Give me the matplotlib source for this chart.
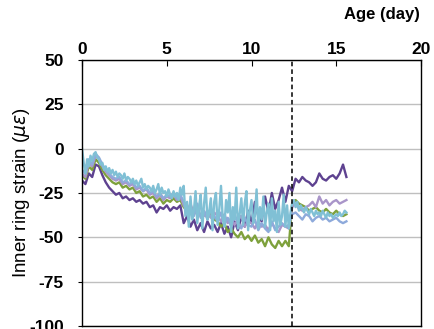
import numpy as np
import matplotlib
matplotlib.use('Agg')
import matplotlib.pyplot as plt
import matplotlib.ticker as ticker

# ========== Data ==========
# gauges 1-4 logged every 0.2 day, gauge 5 every 0.1 day (day 0.0 to 15.6)
age = np.round(np.arange(0, 15.61, 0.2), 1)
age_fine = np.round(np.arange(0, 15.61, 0.1), 1)

strain_s1 = [
    -18, -20, -14, -16, -9, -10, -15, -19, -22, -24,
    -26, -25, -28, -27, -29, -28, -30, -29, -31, -30,
    -33, -32, -36, -33, -34, -32, -35, -33, -34, -32,
    -42, -38, -44, -40, -46, -42, -47, -41, -45, -43,
    -47, -42, -48, -44, -50, -41, -46, -38, -44, -35,
    -42, -30, -38, -41, -27, -36, -25, -34, -29, -22,
    -30, -21, -24, -17, -19, -16, -18, -19, -21, -19,
    -14, -17, -18, -16, -15, -17, -14, -9, -16,
]
strain_s2 = [
    -15, -17, -10, -12, -6, -8, -12, -15, -17, -19,
    -20, -19, -22, -21, -23, -22, -25, -24, -27, -26,
    -28, -27, -30, -28, -31, -29, -30, -28, -30, -29,
    -33, -35, -32, -37, -34, -38, -36, -39, -37, -40,
    -41, -44, -42, -47, -45, -48, -50, -47, -51, -49,
    -52, -49, -53, -51, -55, -50, -54, -56, -52, -55,
    -52, -55, -31, -29, -31, -32, -33, -35, -34, -33,
    -35, -36, -34, -36, -37, -35, -37, -38, -37,
]
strain_s3 = [
    -14, -16, -8, -10, -4, -6, -10, -13, -15, -17,
    -18, -17, -20, -19, -21, -20, -23, -22, -24, -23,
    -26, -25, -28, -26, -29, -27, -28, -26, -29, -27,
    -32, -35, -31, -37, -34, -33, -38, -35, -39, -36,
    -38, -41, -37, -42, -39, -43, -40, -38, -44, -41,
    -42, -45, -41, -44, -43, -46, -42, -45, -47, -43,
    -44, -45, -33, -31, -34, -35, -33, -32, -30, -33,
    -27, -31, -29, -32, -30, -29, -31, -30, -29,
]
strain_s4 = [
    -12, -14, -6, -9, -3, -5, -9, -12, -14, -16,
    -17, -16, -19, -18, -20, -19, -22, -21, -24, -22,
    -25, -24, -27, -25, -28, -26, -27, -25, -28, -26,
    -30, -36, -33, -38, -31, -39, -35, -40, -34, -38,
    -41, -36, -43, -39, -44, -37, -42, -45, -39, -43,
    -44, -40, -46, -42, -45, -47, -41, -46, -44, -42,
    -44, -43, -37, -36, -38, -40, -37, -38, -41, -39,
    -38, -40, -39, -41, -40, -39, -41, -42, -41,
]
strain_s5 = [
    0, -8, -14, -6, -10, -4, -7, -3, -2, -5,
    -6, -9, -8, -12, -10, -13, -11, -14, -12, -15,
    -13, -16, -14, -15, -17, -14, -18, -16, -17, -19,
    -17, -20, -18, -21, -19, -17, -22, -20, -23, -21,
    -22, -24, -21, -25, -23, -20, -26, -22, -25, -24,
    -27, -23, -26, -28, -24, -27, -25, -29, -22, -26,
    -21, -38, -30, -44, -27, -40, -35, -24, -42, -33,
    -26, -45, -31, -22, -40, -36, -28, -46, -30, -25,
    -43, -34, -21, -39, -44, -29, -36, -25, -47, -33,
    -40, -22, -45, -37, -28, -43, -31, -24, -46, -35,
    -29, -42, -38, -23, -45, -33, -40, -27, -44, -36,
    -31, -46, -28, -41, -35, -47, -30, -43, -38, -26,
    -44, -32, -45, -36, -31, -29, -33, -30, -35, -32,
    -34, -36, -33, -35, -37, -34, -36, -38, -35, -37,
    -36, -38, -35, -37, -39, -36, -38, -37, -39, -38,
    -37, -38, -36, -38, -37, -35, -36,
]
series = [(age, strain_s1), (age, strain_s2), (age, strain_s3),
          (age, strain_s4), (age_fine, strain_s5)]
colors = ['#5e4290', '#7ea13c', '#a995c9', '#8eaadb', '#80c0d5']

marker_day = 12.4

# ========== Style ==========
plt.rcParams.update({
    'font.family': ['Liberation Sans', 'DejaVu Sans'],
    'font.size': 12,
    'axes.linewidth': 1.0,
})

fig = plt.figure(figsize=(4.34, 3.29), dpi=100)
ax = fig.add_axes([0.189, 0.009, 0.781, 0.809])

for (x, y), c in zip(series, colors):
    ax.plot(x, y, color=c, linewidth=1.7)

ax.axvline(marker_day, color='black', linestyle='--', linewidth=1.1, dashes=(3, 2))

ax.set_xlim(0, 20)
ax.set_ylim(-100, 50)
ax.xaxis.set_major_locator(ticker.MultipleLocator(5))
ax.yaxis.set_major_locator(ticker.MultipleLocator(25))
ax.yaxis.set_major_formatter(ticker.FuncFormatter(lambda v, p: f'{v:.0f}'))
ax.xaxis.tick_top()
ax.tick_params(axis='x', direction='in', length=4, pad=2, labelsize=12.5)
ax.tick_params(axis='y', direction='out', length=3, pad=10, labelsize=12.5)
for lab in ax.get_xticklabels() + ax.get_yticklabels():
    lab.set_fontweight('bold')

ax.grid(True, axis='y', color='#bfbfbf', linewidth=1.0)
ax.set_axisbelow(True)

ax.set_ylabel(r'Inner ring strain ($\mu\varepsilon$)', fontsize=13.5)
ax.yaxis.set_label_coords(-0.148, 0.5)
fig.text(0.968, 0.955, 'Age (day)', ha='right', va='center', fontsize=12, fontweight='bold')

fig.savefig('out.png', dpi=100)
